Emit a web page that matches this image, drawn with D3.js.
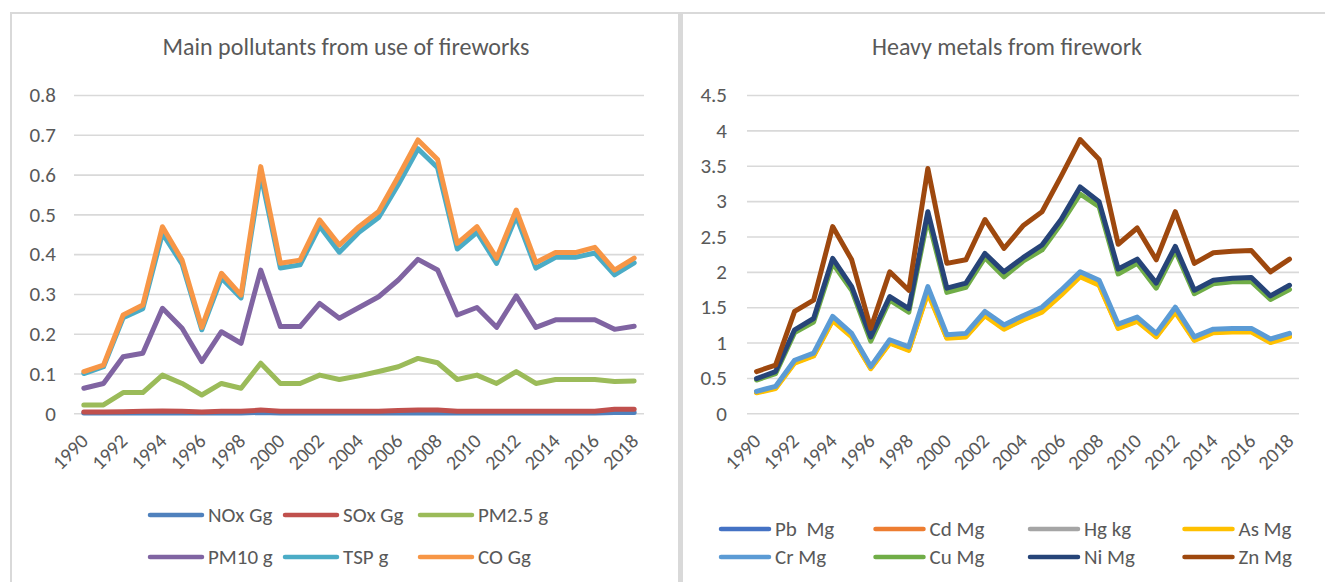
<!DOCTYPE html>
<html>
<head>
<meta charset="utf-8">
<script src="https://cdn.jsdelivr.net/npm/d3@7"></script>
<style>
  html, body { margin: 0; padding: 0; background: #fff; }
  svg { display: block; }
  text { font-family: Carlito, Lato, "Open Sans", sans-serif; fill: #595959; }
</style>
</head>
<body>
<svg id="chart" width="1325" height="582"></svg>
<script>
// ---------- DATA ----------
const years = d3.range(1990, 2019);
const yearLabels = d3.range(1990, 2019, 2);

const leftTitle = "Main pollutants from use of fireworks";
const leftTicks = [0, 0.1, 0.2, 0.3, 0.4, 0.5, 0.6, 0.7, 0.8];
const leftNames = ["NOx Gg", "SOx Gg", "PM2.5 g", "PM10 g", "TSP g", "CO Gg"];
const leftColors = ["#4F81BD", "#C0504D", "#9BBB59", "#8064A2", "#4BACC6", "#F79646"];
const noxGg  = [0.001,0.001,0.001,0.001,0.001,0.001,0.001,0.001,0.001,0.002,0.001,0.001,0.001,0.001,0.001,0.001,0.001,0.001,0.001,0.001,0.001,0.001,0.001,0.001,0.001,0.001,0.001,0.002,0.002];
const soxGg  = [0.003,0.003,0.004,0.005,0.006,0.005,0.003,0.005,0.005,0.008,0.005,0.005,0.005,0.005,0.005,0.005,0.007,0.008,0.008,0.005,0.005,0.005,0.005,0.005,0.005,0.005,0.005,0.010,0.010];
const pm25g  = [0.021,0.021,0.052,0.052,0.096,0.075,0.046,0.075,0.063,0.126,0.075,0.075,0.096,0.085,0.094,0.105,0.117,0.138,0.127,0.085,0.096,0.075,0.105,0.075,0.085,0.085,0.085,0.080,0.081];
const pm10g  = [0.063,0.075,0.142,0.151,0.264,0.214,0.130,0.205,0.176,0.360,0.218,0.218,0.276,0.239,0.266,0.293,0.335,0.387,0.360,0.247,0.266,0.216,0.295,0.216,0.235,0.235,0.235,0.211,0.219];
const tspG   = [0.100,0.117,0.240,0.263,0.452,0.375,0.210,0.340,0.290,0.600,0.365,0.373,0.470,0.405,0.455,0.492,0.575,0.665,0.617,0.413,0.455,0.377,0.495,0.365,0.392,0.392,0.403,0.348,0.378];
const coGg   = [0.105,0.121,0.247,0.272,0.469,0.385,0.216,0.352,0.297,0.620,0.377,0.385,0.486,0.423,0.469,0.507,0.595,0.687,0.638,0.427,0.469,0.390,0.511,0.379,0.404,0.404,0.417,0.360,0.390];

const rightTitle = "Heavy metals from firework";
const rightTicks = [0, 0.5, 1, 1.5, 2, 2.5, 3, 3.5, 4, 4.5];
const rightNames = ["Pb  Mg", "Cd Mg", "Hg kg", "As Mg", "Cr Mg", "Cu Mg", "Ni Mg", "Zn Mg"];
const rightColors = ["#4472C4", "#ED7D31", "#A5A5A5", "#FFC000", "#5B9BD5", "#70AD47", "#264478", "#9E480E"];
const pbMg = [0.30,0.37,0.73,0.83,1.34,1.10,0.65,1.01,0.91,1.74,1.08,1.10,1.41,1.22,1.35,1.46,1.70,1.96,1.84,1.23,1.33,1.10,1.46,1.06,1.17,1.18,1.18,1.03,1.11];
const cdMg = [0.30,0.36,0.72,0.82,1.32,1.09,0.64,1.00,0.90,1.72,1.07,1.09,1.39,1.20,1.33,1.44,1.68,1.94,1.82,1.21,1.31,1.09,1.44,1.04,1.15,1.16,1.16,1.01,1.09];
const hgKg = [0.30,0.36,0.72,0.82,1.33,1.09,0.64,1.00,0.90,1.73,1.07,1.09,1.40,1.21,1.34,1.45,1.69,1.95,1.83,1.22,1.32,1.09,1.45,1.05,1.16,1.17,1.17,1.02,1.10];
const asMg = [0.29,0.35,0.71,0.81,1.31,1.08,0.63,0.99,0.89,1.70,1.06,1.08,1.38,1.19,1.32,1.43,1.67,1.93,1.81,1.20,1.30,1.08,1.43,1.03,1.14,1.15,1.15,1.00,1.08];
const crMg = [0.31,0.38,0.75,0.85,1.37,1.13,0.66,1.04,0.94,1.79,1.11,1.13,1.44,1.25,1.38,1.50,1.74,2.00,1.88,1.26,1.36,1.13,1.50,1.08,1.19,1.20,1.20,1.05,1.13];
const cuMg = [0.47,0.56,1.14,1.29,2.12,1.74,1.02,1.60,1.43,2.76,1.71,1.78,2.20,1.93,2.15,2.31,2.68,3.10,2.92,1.97,2.12,1.77,2.30,1.69,1.83,1.86,1.86,1.61,1.75];
const niMg = [0.49,0.59,1.18,1.34,2.19,1.79,1.08,1.65,1.48,2.85,1.77,1.84,2.26,2.00,2.20,2.38,2.74,3.20,2.99,2.04,2.18,1.84,2.36,1.74,1.88,1.91,1.92,1.66,1.81];
const znMg = [0.59,0.68,1.44,1.60,2.64,2.17,1.20,2.00,1.74,3.46,2.12,2.17,2.74,2.33,2.65,2.85,3.35,3.87,3.59,2.39,2.62,2.17,2.85,2.12,2.27,2.29,2.30,2.00,2.18];

const leftSeries = [noxGg, soxGg, pm25g, pm10g, tspG, coGg];
const rightSeries = [pbMg, cdMg, hgKg, asMg, crMg, cuMg, niMg, znMg];

// ---------- DRAW ----------
const svg = d3.select("#chart");
const GRID = "#d9d9d9";

// panel borders
svg.append("rect").attr("x", 10).attr("y", 12).attr("width", 668).attr("height", 2).attr("fill", GRID);
svg.append("rect").attr("x", 10).attr("y", 12).attr("width", 2).attr("height", 570).attr("fill", GRID);
svg.append("rect").attr("x", 678).attr("y", 12).attr("width", 5).attr("height", 570).attr("fill", GRID);
svg.append("rect").attr("x", 683).attr("y", 12).attr("width", 642).attr("height", 2).attr("fill", GRID);

function drawChart(cfg) {
  const g = svg.append("g");
  const x = d3.scalePoint().domain(years).range([cfg.x0, cfg.x1]).padding(0.5);
  const y = d3.scaleLinear().domain([0, cfg.ymax]).range([cfg.yb, cfg.yt]);

  // title
  g.append("text")
    .attr("x", cfg.titleX).attr("y", 55)
    .attr("text-anchor", "middle")
    .style("font-size", "24px")
    .text(cfg.title);

  // y axis + gridlines
  const yAxis = d3.axisLeft(y)
    .tickValues(cfg.ticks)
    .tickFormat(d => String(d))
    .tickSize(-(cfg.x1 - cfg.x0))
    .tickPadding(cfg.tickPad);
  const ya = g.append("g").attr("transform", `translate(${cfg.x0},0)`).call(yAxis);
  ya.select(".domain").remove();
  ya.selectAll(".tick line").attr("stroke", GRID).attr("stroke-width", 1.6);
  ya.selectAll(".tick text").style("font-size", "21px").attr("fill", "#595959");

  // x axis labels
  const xAxis = d3.axisBottom(x).tickValues(yearLabels).tickSize(0);
  const xa = g.append("g").attr("transform", `translate(0,${cfg.yb})`).call(xAxis);
  xa.select(".domain").remove();
  xa.selectAll(".tick text")
    .attr("x", 0).attr("y", 0).attr("dy", 0)
    .attr("transform", "translate(5,29) rotate(-45)")
    .attr("text-anchor", "end")
    .attr("fill", "#595959")
    .style("font-size", "20px");

  // lines
  const line = d3.line().x((d, i) => x(years[i])).y(d => y(d));
  cfg.series.forEach((s, k) => {
    g.append("path")
      .datum(s)
      .attr("d", line)
      .attr("fill", "none")
      .attr("stroke", cfg.colors[k])
      .attr("stroke-width", 5)
      .attr("stroke-linejoin", "round")
      .attr("stroke-linecap", "round");
  });

  // legend
  cfg.names.forEach((name, k) => {
    const col = k % cfg.legCols, row = Math.floor(k / cfg.legCols);
    const lx = cfg.legX0 + col * cfg.legDX;
    const ly = cfg.legY0 + row * cfg.legDY;
    g.append("line")
      .attr("x1", lx + 2).attr("x2", lx + cfg.legLen - 2)
      .attr("y1", ly).attr("y2", ly)
      .attr("stroke", cfg.colors[k]).attr("stroke-width", 4.5)
      .attr("stroke-linecap", "round");
    g.append("text")
      .attr("x", lx + cfg.legLen + 4).attr("y", ly)
      .attr("dy", "0.35em")
      .style("font-size", "21px")
      .style("white-space", "pre")
      .attr("xml:space", "preserve")
      .text(name);
  });
}

drawChart({
  title: leftTitle, titleX: 346,
  x0: 74, x1: 644, yt: 95, yb: 413.3, ymax: 0.8,
  ticks: leftTicks, tickPad: 18,
  series: leftSeries, colors: leftColors, names: leftNames,
  legCols: 3, legX0: 148, legDX: 135, legY0: 515, legDY: 42, legLen: 56
});

drawChart({
  title: rightTitle, titleX: 1007,
  x0: 747, x1: 1299, yt: 95, yb: 413.3, ymax: 4.5,
  ticks: rightTicks, tickPad: 20,
  series: rightSeries, colors: rightColors, names: rightNames,
  legCols: 4, legX0: 719, legDX: 154.5, legY0: 529, legDY: 28, legLen: 52
});
</script>
</body>
</html>
